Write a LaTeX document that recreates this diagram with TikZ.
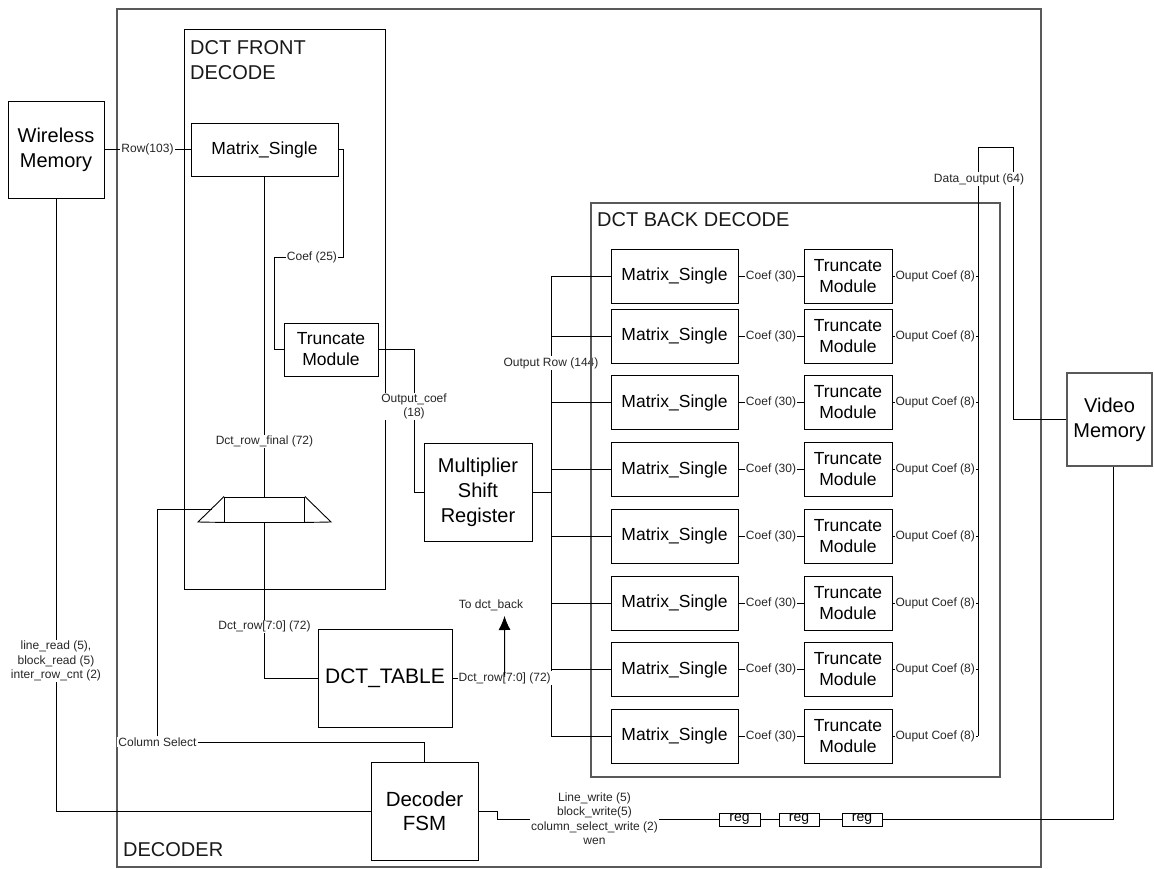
\documentclass[tikz,border=0pt]{standalone}
\usepackage{fontspec}
\setmainfont{Liberation Sans}
\usetikzlibrary{arrows.meta}
\begin{document}
\begin{tikzpicture}[x=1pt,y=-1pt,
  box/.style={draw=black, line width=0.9pt, inner sep=0pt, align=center, fill=white},
  bigtxt/.style={font=\fontsize{20}{25}\selectfont},
  midtxt/.style={font=\fontsize{17.5}{21}\selectfont},
  lbl/.style={font=\fontsize{12}{14.5}\selectfont, fill=white, inner sep=1pt, text=black!85, align=center},
  wire/.style={draw=black, line width=0.9pt},
  frame/.style={draw=black!65, line width=1.2pt},
  title/.style={font=\fontsize{20}{25}\selectfont, anchor=base west, inner sep=0pt, text=black!90}
]
\useasboundingbox (0,0) rectangle (1154,869);
\fill[white] (0,0) rectangle (1154,869);

% frames
\draw[frame] (117,9) rectangle (1041,867);
\draw[wire] (184,29) rectangle (385,589);

\node[title] (t1) at (190,54.3) {DCT FRONT};
\node[title] (t2) at (190,79.3) {DECODE};
\node[title] (t3) at (123,856) {DECODER};

% main boxes
\node[box,bigtxt,minimum width=96pt,minimum height=97pt] (WM) at (56,149.5) {Wireless\\Memory};
\node[box,midtxt,minimum width=147pt,minimum height=53pt] (MSf) at (264.5,149.5) {Matrix\_Single};
\node[box,midtxt,minimum width=94pt,minimum height=53pt] (TRf) at (331,349.5) {Truncate\\Module};
\node[box,bigtxt,minimum width=108pt,minimum height=98pt] (MSR) at (478,492) {Multiplier\\Shift\\Register};
\node[box,font=\fontsize{21}{25}\selectfont,minimum width=134pt,minimum height=98pt] (DT) at (385,678) {DCT\_TABLE};
\node[box,font=\fontsize{20.5}{24}\selectfont,minimum width=107pt,minimum height=98pt] (FSM) at (424.5,811) {Decoder\\FSM};
\node[box,draw=black!65,line width=1.1pt,bigtxt,minimum width=85pt,minimum height=93pt] (VM) at (1109.5,419.5) {Video\\Memory};

% mux
\node[draw, line width=0.9pt, minimum width=80pt, minimum height=25pt, inner sep=0pt] (mux) at (264.5,509.5) {};
\draw[wire] (mux.north west) -- (198,522) -- (mux.south west);
\draw[wire] (mux.north east) -- (331,522) -- (mux.south east);
\coordinate (muxin) at (211.5,509.5);

% regs
\node[box,font=\fontsize{14}{14}\selectfont,minimum width=41pt,minimum height=13pt] (reg1) at (739.5,819.5) {reg};
\node[box,font=\fontsize{14}{14}\selectfont,minimum width=40pt,minimum height=13pt] (reg2) at (799,819.5) {reg};
\node[box,font=\fontsize{14}{14}\selectfont,minimum width=40pt,minimum height=13pt] (reg3) at (862,819.5) {reg};

% front connections
\draw[wire] (WM.east) -- node[lbl] (rowl) {Row(103)} (MSf.west);
\draw[wire] (MSf.east) -- (343,149.5) -- (343,257) -- node[lbl,pos=0.45] (c25) {Coef (25)} (274,257) -- (274,349.5) -- (TRf.west);
\draw[wire] (MSf.south) -- node[lbl,pos=0.829] (drf) {Dct\_row\_final (72)} (mux.north);
\draw[wire] (mux.south) -- node[lbl,pos=0.667] (drl) {Dct\_row[7:0] (72)} (mux.south |- DT.west) -- (DT.west);
\draw[wire] (TRf.east) -- (414,349.5) -- node[lbl,pos=0.4] (ocl) {Output\_coef\\(18)} (414,492) -- (MSR.west);

% back bus
\coordinate (busT) at (551,276);
\coordinate (busB) at (551,736);
\draw[wire] (busT) -- (busB);
\draw[wire] (MSR.east) -- (MSR.east -| busT);
\draw[wire] (DT.east) -- node[lbl,pos=0.53] (dtl) {Dct\_row[7:0] (72)} (DT.east -| busT);
\coordinate (tip) at (504.5,616);
\draw[wire,shorten <=-6pt,-{Latex[length=14pt,width=12pt]}] (dtl.north) -- (tip);
\node[lbl] (todct) at (491,605) {To dct\_back};
\node[lbl] (orl) at (551,363) {Output Row (144)};

% back decode frame
\draw[frame] (591,203) rectangle (1000,777);
\node[title] (t4) at (597,227) {DCT BACK DECODE};

\foreach \i/\y in {1/276,2/336,3/402.5,4/469.5,5/536,6/603,7/669.5,8/736} {
  \node[box,midtxt,minimum width=127pt,minimum height=54pt] (MSb\i) at (674.5,\y) {Matrix\_Single};
  \node[box,midtxt,minimum width=88pt,minimum height=54pt] (TRb\i) at (848,\y) {Truncate\\Module};
  \draw[wire] (551,\y) -- (MSb\i.west);
  \draw[wire] (MSb\i.east) -- node[lbl] (cl\i) {Coef (30)} (TRb\i.west);
  \draw[wire] (TRb\i.east) -- node[lbl] (ol\i) {Ouput Coef (8)} (978,\y);
}

% output bus to video memory
\coordinate (obT) at (978,147);
\coordinate (obB) at (978,736);
\draw[wire] (obB) -- (obT) -- (1013,147) -- (1013,419.5) -- (VM.west);
\node[lbl] (dol) at (979,179) {Data\_output (64)};

% column select
\node[lbl] (csl) at (157.5,742) {Column Select};
\draw[wire] (FSM.north) |- (csl.east);
\draw[wire] (csl.north) -- (csl.north |- muxin) -- (muxin);

% wireless memory to FSM
\draw[wire] (WM.south) -- (WM.south |- FSM.west) -- (FSM.west);
\node[lbl] (rl) at (56,661) {line\_read (5),\\block\_read (5)\\inter\_row\_cnt (2)};

% FSM to regs to video memory
\draw[wire] (FSM.east) -- (497.5,811) -- (497.5,819.5) -- (reg1.west);
\node[lbl] (wl) at (594.5,818.5) {Line\_write (5)\\block\_write(5)\\column\_select\_write (2)\\wen};
\draw[wire] (reg1.east) -- (reg2.west);
\draw[wire] (reg2.east) -- (reg3.west);
\draw[wire] (reg3.east) -- (reg3.east -| 1113,0) -- ([xshift=3.5pt]VM.south);
\end{tikzpicture}
\end{document}
